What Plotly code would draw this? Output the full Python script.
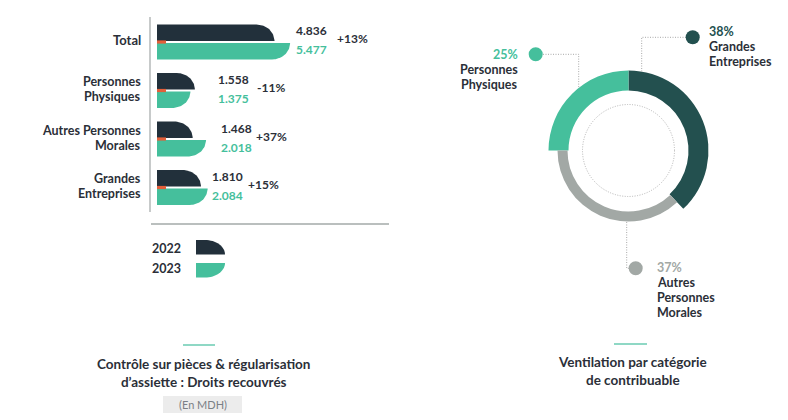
import math
import plotly.graph_objects as go

# ---------------- data ----------------
categories = ["Total", "Personnes<br>Physiques", "Autres Personnes<br>Morales", "Grandes<br>Entreprises"]
values_2022 = [4.836, 1.558, 1.468, 1.810]
values_2023 = [5.477, 1.375, 2.018, 2.084]
labels_2022 = ["4.836", "1.558", "1.468", "1.810"]
labels_2023 = ["5.477", "1.375", "2.018", "2.084"]
pct_change = ["+13%", "-11%", "+37%", "+15%"]
years = ["2022", "2023"]

donut_labels = ["Grandes<br>Entreprises", "Autres<br>Personnes<br>Morales", "Personnes<br>Physiques"]
donut_values = [38, 37, 25]

# ---------------- style ----------------
W, H = 788, 420
FONT = "Lato"
C_DARK = "#22303b"
C_GREEN = "#45bf9c"
C_TEAL = "#23504f"
C_GRAY = "#a2a8a5"
C_ORANGE = "#e35f3a"
C_TEXT = "#2b2f38"
C_LINE = "#b4b9b8"
C_UNDER = "#8fd8c5"
LH = 15.0   # line height (px) of multi-line labels
LSIZE = 12.5


def px(x):
    return x / W


def py(y):
    return 1 - y / H


# bar panel geometry (pixels)
X0, X1 = 157, 389
PPU = 24.3             # pixels per MDH unit
Y_TOP, Y_BOT = 17, 224
ROW0, STEP = 42.0, 48.5
RX_PX = 18             # rounded-end horizontal radius
GAP_PX, BAR_PX = 1.0, 16.5

fig = go.Figure()

xr = [0, (X1 - X0) / PPU]
yr = [(Y_BOT - ROW0) / STEP, (Y_TOP - ROW0) / STEP]
uy = 1 / STEP
rx = RX_PX / PPU


def rounded_bar(length, c, top):
    """Path of a bar with one rounded corner at its end."""
    n = 24
    if top:
        y_in, y_out = c - GAP_PX * uy, c - (GAP_PX + BAR_PX) * uy
    else:
        y_in, y_out = c + GAP_PX * uy, c + (GAP_PX + BAR_PX) * uy
    r = min(rx, length)
    xs = [0, length]
    ys = [y_in, y_in]
    for k in range(1, n + 1):
        t = math.pi / 2 * k / n
        xs.append(length - r + r * math.cos(t))
        ys.append(y_in + (y_out - y_in) * math.sin(t))
    xs += [0, 0]
    ys += [y_out, y_in]
    return xs, ys


for i, (v22, v23) in enumerate(zip(values_2022, values_2023)):
    for v, top, col, name in [(v22, True, C_DARK, years[0]), (v23, False, C_GREEN, years[1])]:
        xs, ys = rounded_bar(v, i, top)
        fig.add_trace(go.Scatter(x=xs, y=ys, fill="toself", fillcolor=col, mode="lines",
                                 line=dict(width=0, color=col), hoverinfo="text",
                                 text=f"{name}: {v}", showlegend=False, xaxis="x", yaxis="y"))
    # small orange marker at bar root
    ow = 9 / PPU
    oh = 1.6 * uy
    fig.add_trace(go.Scatter(x=[0, ow, ow, 0, 0], y=[i - oh, i - oh, i + oh, i + oh, i - oh],
                             fill="toself", fillcolor=C_ORANGE, mode="lines",
                             line=dict(width=0, color=C_ORANGE), hoverinfo="skip",
                             showlegend=False))

# value labels
VALUE_PAD = [4, 21, 13, 2]
PCT_PAD = [45, 60, 48, 38]
ann = []
VFONT = dict(family=FONT, size=12, color=C_TEXT, weight="bold")
for i in range(len(categories)):
    m = max(values_2022[i], values_2023[i])
    ann.append(dict(x=m, y=i, xref="x", yref="y", text=labels_2022[i], showarrow=False,
                    xanchor="left", yanchor="middle", xshift=VALUE_PAD[i], yshift=11,
                    font=VFONT))
    ann.append(dict(x=m, y=i, xref="x", yref="y", text=labels_2023[i], showarrow=False,
                    xanchor="left", yanchor="middle", xshift=VALUE_PAD[i], yshift=-8,
                    font=dict(VFONT, color=C_GREEN)))
    ann.append(dict(x=m, y=i, xref="x", yref="y", text=pct_change[i], showarrow=False,
                    xanchor="left", yanchor="middle", xshift=PCT_PAD[i], yshift=3,
                    font=VFONT))
    lines = categories[i].split("<br>")
    n = len(lines)
    for j, ln in enumerate(lines):
        off = 1.5 + ((n - 1) / 2 - j) * LH
        ann.append(dict(x=px(143), y=i, xref="paper", yref="y", text=ln, showarrow=False,
                        xanchor="right", yanchor="middle", yshift=off,
                        font=dict(family=FONT, size=LSIZE + 0.5 if n == 1 else LSIZE,
                                  color=C_TEXT, weight="bold")))

shapes = []
# axis lines
shapes.append(dict(type="line", xref="paper", yref="paper", x0=px(150), x1=px(150),
                   y0=py(17), y1=py(212), line=dict(color=C_LINE, width=1.5)))
shapes.append(dict(type="line", xref="paper", yref="paper", x0=px(151), x1=px(389),
                   y0=py(224), y1=py(224), line=dict(color="#a3aaa8", width=1.5)))

# legend
leg_cols = [C_DARK, C_GREEN]
leg_y = [(240, 254.5), (263, 277.5)]
for k, yr_name in enumerate(years):
    ya, yb = leg_y[k]
    xa, xb = 196, 225
    n = 16
    r = 20
    if k == 0:
        pts = [(xa, yb), (xb, yb)]
        for j in range(1, n + 1):
            t = math.pi / 2 * j / n
            pts.append((xb - r + r * math.cos(t), yb - (yb - ya) * math.sin(t)))
        pts.append((xa, ya))
    else:
        pts = [(xa, ya), (xb, ya)]
        for j in range(1, n + 1):
            t = math.pi / 2 * j / n
            pts.append((xb - r + r * math.cos(t), ya + (yb - ya) * math.sin(t)))
        pts.append((xa, yb))
    path = "M " + " L ".join(f"{px(a):.5f},{py(b):.5f}" for a, b in pts) + " Z"
    shapes.append(dict(type="path", xref="paper", yref="paper", path=path,
                       fillcolor=leg_cols[k], line=dict(width=0)))
    ann.append(dict(x=px(183), y=py(248.5 if k == 0 else 268),
                    xref="paper", yref="paper", text=yr_name, showarrow=False,
                    xanchor="right", yanchor="middle",
                    font=dict(family=FONT, size=12.5, color=C_TEXT, weight="bold")))

# ---------------- donut ----------------
CX, CY = 628.5, 150.5
R_OUT, R_IN = 80, 60
G_OUT, G_IN = 71, 61
fig.add_trace(go.Pie(values=donut_values, labels=donut_labels, sort=False, direction="clockwise",
                     rotation=0, hole=R_IN / R_OUT, textinfo="none", hoverinfo="label+percent",
                     marker=dict(colors=[C_TEAL, "rgba(0,0,0,0)", C_GREEN], line=dict(width=0)),
                     domain=dict(x=[px(CX - R_OUT), px(CX + R_OUT)], y=[py(CY + R_OUT), py(CY - R_OUT)]),
                     showlegend=False))
fig.add_trace(go.Pie(values=donut_values, labels=donut_labels, sort=False, direction="clockwise",
                     rotation=0, hole=G_IN / G_OUT, textinfo="none", hoverinfo="skip",
                     marker=dict(colors=["rgba(0,0,0,0)", C_GRAY, "rgba(0,0,0,0)"], line=dict(width=0)),
                     domain=dict(x=[px(CX - G_OUT), px(CX + G_OUT)], y=[py(CY + G_OUT), py(CY - G_OUT)]),
                     showlegend=False))

# inner dotted circle
shapes.append(dict(type="circle", xref="paper", yref="paper", x0=px(CX - 46), x1=px(CX + 46),
                   y0=py(CY + 46), y1=py(CY - 46), line=dict(color="#b4b4b4", width=1, dash="1px,1.5px")))

DOT = dict(color="#a8a8a8", width=1, dash="1px,1.5px")


def leader(points):
    path = "M " + " L ".join(f"{px(a):.5f},{py(b):.5f}" for a, b in points)
    shapes.append(dict(type="path", xref="paper", yref="paper", path=path, line=DOT))


leader([(543, 54.3), (578.7, 54.3), (578.7, 88)])
leader([(686, 37.3), (641.7, 37.3), (641.7, 71.6)])
leader([(626.7, 222), (626.7, 268.3), (629, 268.3)])

marker_cols = [C_TEAL, C_GRAY, C_GREEN]
marker_pos = [(692.7, 37.3), (635.7, 268.3), (535.7, 54.3)]
for col, (mx, my) in zip(marker_cols, marker_pos):
    rr = 7
    shapes.append(dict(type="circle", xref="paper", yref="paper", x0=px(mx - rr), x1=px(mx + rr),
                       y0=py(my + rr), y1=py(my - rr), fillcolor=col, line=dict(width=0)))

# donut labels
pct_cols = [C_TEAL, C_GRAY, C_GREEN]
lab_pos = [(707, 31.5, "left"), (655, 267.5, "left"), (520, 54.5, "right")]
for k in range(3):
    lx, ly, anc = lab_pos[k]
    ann.append(dict(x=px(lx), y=py(ly), xref="paper", yref="paper", text=f"{donut_values[k]}%",
                    showarrow=False, xanchor=anc, yanchor="middle",
                    font=dict(family=FONT, size=LSIZE, color=pct_cols[k], weight="bold")))
    for j, ln in enumerate(donut_labels[k].split("<br>")):
        ann.append(dict(x=px(lx), y=py(ly + LH + j * LH), xref="paper", yref="paper", text=ln,
                        showarrow=False, xanchor=anc, yanchor="middle",
                        font=dict(family=FONT, size=LSIZE, color=C_TEXT, weight="bold")))

# ---------------- titles ----------------
shapes.append(dict(type="line", xref="paper", yref="paper", x0=px(183), x1=px(215),
                   y0=py(345), y1=py(345), line=dict(color=C_UNDER, width=2)))
shapes.append(dict(type="line", xref="paper", yref="paper", x0=px(614), x1=px(647),
                   y0=py(344), y1=py(344), line=dict(color=C_UNDER, width=2)))
ann.append(dict(x=px(203), y=py(372.5), xref="paper", yref="paper",
                text="Contrôle sur pièces & régularisation<br>d’assiette : Droits recouvrés",
                showarrow=False, xanchor="center", yanchor="middle", align="center",
                font=dict(family=FONT, size=13.5, color=C_TEXT, weight="bold")))
shapes.append(dict(type="rect", xref="paper", yref="paper", x0=px(163), x1=px(242),
                   y0=py(413), y1=py(396), fillcolor="#ececec", line=dict(width=0)))
ann.append(dict(x=px(202.5), y=py(404.5), xref="paper", yref="paper", text="(En MDH)",
                showarrow=False, xanchor="center", yanchor="middle",
                font=dict(family=FONT, size=11, color="#7b8086")))
ann.append(dict(x=px(632), y=py(371), xref="paper", yref="paper",
                text="Ventilation par catégorie<br>de contribuable",
                showarrow=False, xanchor="center", yanchor="middle", align="center",
                font=dict(family=FONT, size=13.5, color=C_TEXT, weight="bold")))

fig.update_layout(
    width=W, height=H, margin=dict(l=0, r=0, t=0, b=0),
    paper_bgcolor="white", plot_bgcolor="white",
    xaxis=dict(domain=[px(X0), px(X1)], range=xr, visible=False, fixedrange=True),
    yaxis=dict(domain=[py(Y_BOT), py(Y_TOP)], range=yr, visible=False, fixedrange=True),
    shapes=shapes, annotations=ann, showlegend=False,
)

fig.write_html("out.html")
